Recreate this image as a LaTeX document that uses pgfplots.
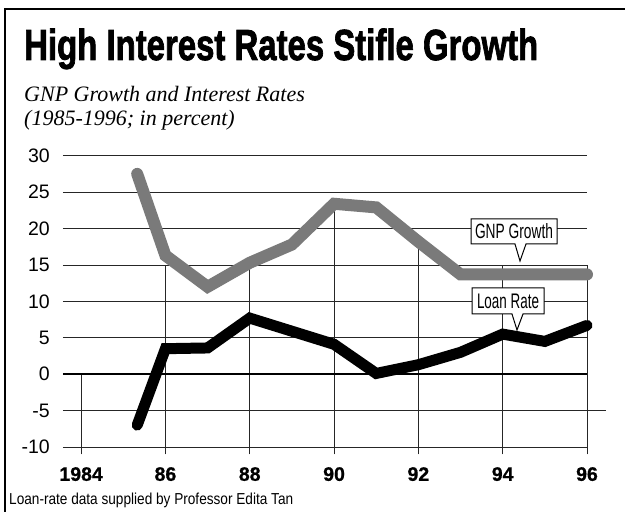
\documentclass[border=0pt]{standalone}
\usepackage{pgfplots}
\pgfplotsset{compat=1.18}
\usepackage{fontspec}
\setmainfont{Liberation Sans}
\newfontfamily\serifit{Liberation Serif}
\newfontfamily\titlefont[BoldFeatures={FakeBold=2}]{Liberation Sans}
\newfontfamily\labfont[BoldFeatures={FakeBold=0.8}]{Liberation Sans}
\definecolor{gnpgray}{gray}{0.48}
\begin{document}
\begin{tikzpicture}[x=1pt,y=1pt]
\useasboundingbox (0,0) rectangle (625,512);
\fill[white] (0,0) rectangle (625,512);
% frame
\draw[line width=1.5pt] (5,0) -- (5,503) -- (625,503);
% title and subtitle
\node[anchor=base west, inner sep=0pt] at (24,452) {\resizebox{514pt}{31.5pt}{\titlefont\bfseries High Interest Rates Stifle Growth}};
\node[anchor=base west, inner sep=0pt] at (24,410) {\serifit\itshape\fontsize{22}{24}\selectfont GNP Growth and Interest Rates};
\node[anchor=base west, inner sep=0pt] at (24,386) {\serifit\itshape\fontsize{22}{24}\selectfont (1985-1996; in percent)};
% footnote
\node[anchor=base west, inner sep=0pt] at (9,7) {\resizebox{284pt}{11.5pt}{Loan-rate data supplied by Professor Edita Tan}};

\begin{axis}[
  at={(63pt,65pt)}, anchor=south west,
  scale only axis, width=524pt, height=291.3pt,
  xmin=1983.57, xmax=1996, ymin=-10, ymax=30,
  clip=false,
  axis line style={draw=none},
  major tick length=0pt,
  tick style={draw=none},
  ytick={-10,-5,0,5,10,15,20,25,30},
  yticklabels={-10,-5,0,5,10,15,20,25,30},
  xtick={1984,1986,1988,1990,1992,1994,1996},
  xticklabels={1984,86,88,90,92,94,96},
  yticklabel style={anchor=east, inner sep=0pt, xshift=-13pt, font=\fontsize{19.5}{20}\selectfont},
  xticklabel style={anchor=north, inner sep=0pt, yshift=-20pt, font=\labfont\bfseries\fontsize{19.5}{20}\selectfont},
  ymajorgrids,
  grid style={black!85, line width=0.8pt},
  unbounded coords=jump,
]
% vertical grid lines
\addplot[black!85, line width=0.8pt] coordinates {
  (1984,-11) (1984,0) (nan,nan)
  (1986,-11) (1986,15) (nan,nan)
  (1988,-11) (1988,15) (nan,nan)
  (1990,-11) (1990,23) (nan,nan)
  (1992,-11) (1992,18) (nan,nan)
  (1994,-11) (1994,15) (nan,nan)
  (1996,-11) (1996,15)
};
% extension of the -5 line
\addplot[black!85, line width=0.8pt] coordinates {(1996,-5) (1996.45,-5)};
% zero line
\addplot[black, line width=2.5pt] coordinates {(1983.57,0) (1996,0)};
% GNP growth
\addplot[gnpgray, line width=12pt, line cap=round, line join=miter] coordinates {
  (1985.33,27.5) (1986,16.3) (1987,12.0) (1988,15.3) (1989,17.8) (1990,23.4)
  (1991,22.9) (1992,18.2) (1993,13.7) (1994,13.7) (1995,13.7) (1996,13.7)
};
% Loan rate
\addplot[black, line width=11pt, line cap=round, line join=miter] coordinates {
  (1985.33,-7.0) (1986,3.5) (1987,3.6) (1988,7.7) (1989,5.9) (1990,4.1)
  (1991,0.1) (1992,1.3) (1993,3.0) (1994,5.5) (1995,4.5) (1996,6.7)
};
\end{axis}
% callouts
\draw[fill=white, line width=1pt] (471,268) -- (515,268) -- (520,251) -- (526,268) -- (557,268) -- (557,293) -- (471,293) -- cycle;
\node[anchor=base, inner sep=0pt] at (514,273) {\resizebox{78pt}{15pt}{GNP Growth}};
\draw[fill=white, line width=1pt] (472,198) -- (512,198) -- (517,182) -- (523,198) -- (544,198) -- (544,224) -- (472,224) -- cycle;
\node[anchor=base, inner sep=0pt] at (508,203) {\resizebox{62pt}{14.5pt}{Loan Rate}};
\end{tikzpicture}
\end{document}
